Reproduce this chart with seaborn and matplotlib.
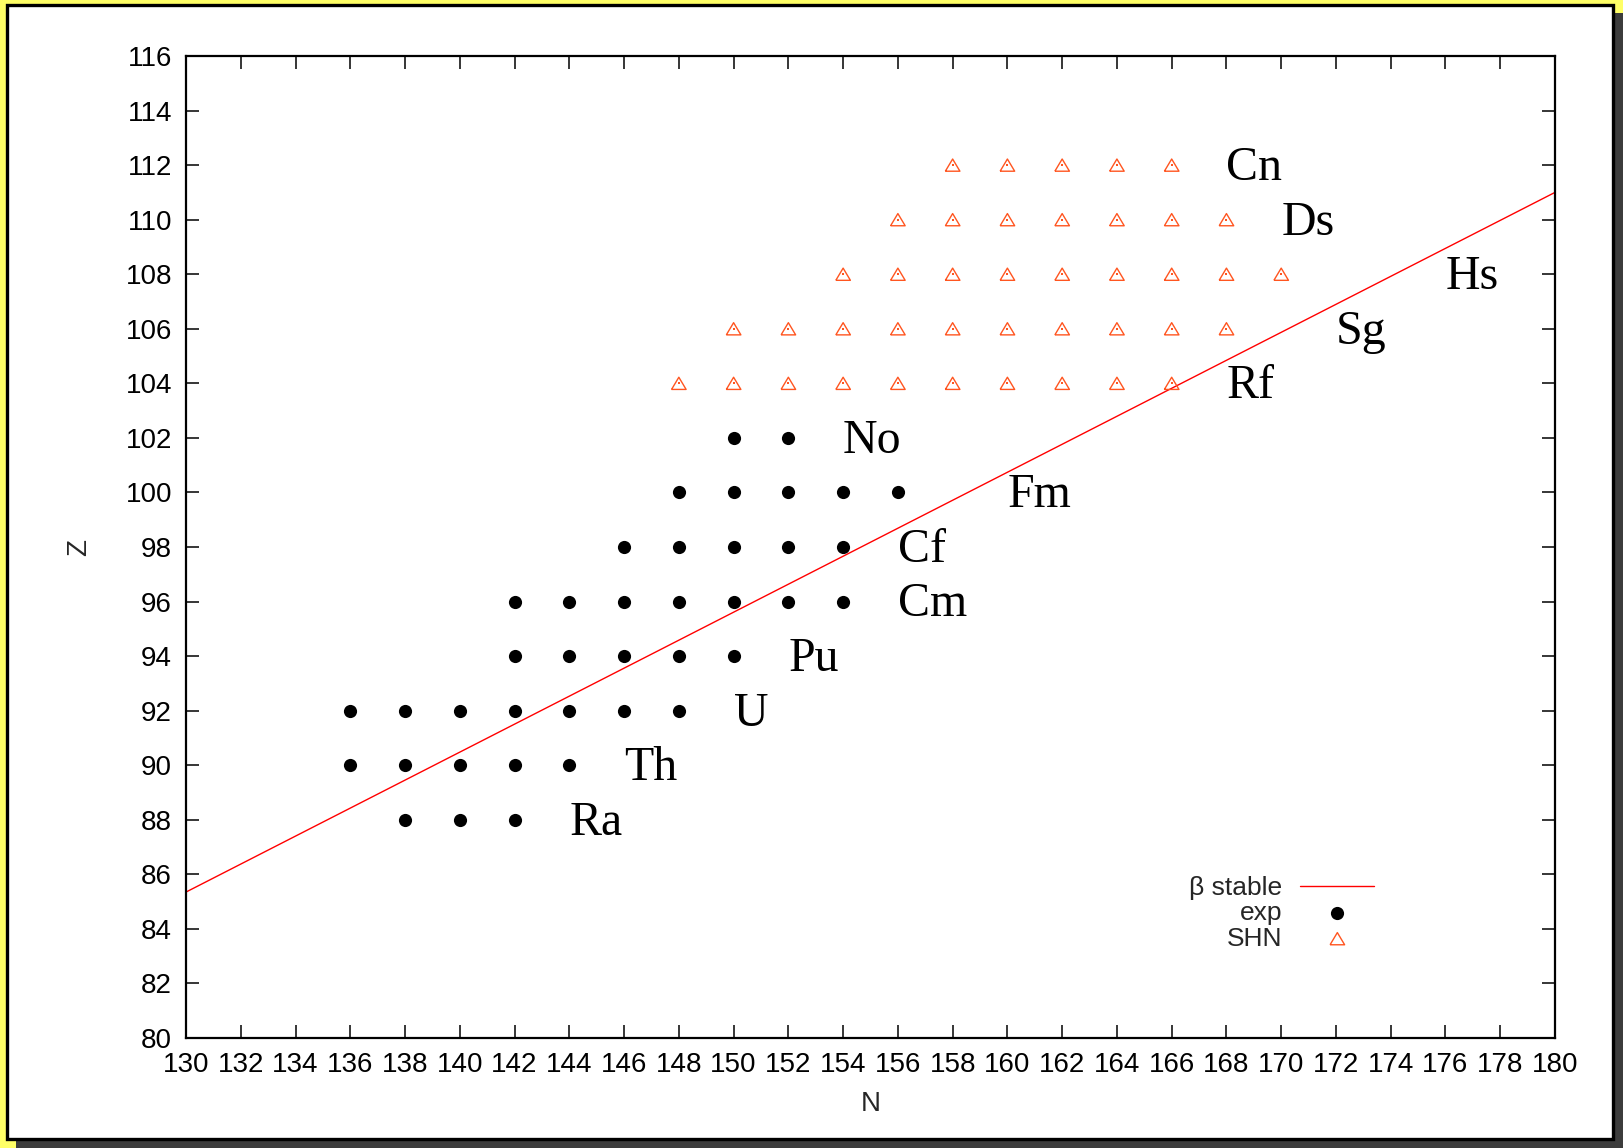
import matplotlib
matplotlib.use("Agg")
import matplotlib.pyplot as plt
import seaborn as sns
from matplotlib.patches import Rectangle

# ---------------- data ----------------
exp_N = [138, 140, 142,
         136, 138, 140, 142, 144,
         136, 138, 140, 142, 144, 146, 148,
         142, 144, 146, 148, 150,
         142, 144, 146, 148, 150, 152, 154,
         146, 148, 150, 152, 154,
         148, 150, 152, 154, 156,
         150, 152]
exp_Z = [88] * 3 + [90] * 5 + [92] * 7 + [94] * 5 + [96] * 7 + [98] * 5 + [100] * 5 + [102] * 2

shn_N = [148, 150, 152, 154, 156, 158, 160, 162, 164, 166,
         150, 152, 154, 156, 158, 160, 162, 164, 166, 168,
         154, 156, 158, 160, 162, 164, 166, 168, 170,
         156, 158, 160, 162, 164, 166, 168,
         158, 160, 162, 164, 166]
shn_Z = [104] * 10 + [106] * 10 + [108] * 9 + [110] * 7 + [112] * 5

beta_N = [130, 180]
beta_Z = [85.35, 111.0]

elem_names = ["Ra", "Th", "U", "Pu", "Cm", "Cf", "Fm", "No", "Rf", "Sg", "Hs", "Ds", "Cn"]
elem_N = [144, 146, 150, 152, 156, 156, 160, 154, 168, 172, 176, 170, 168]
elem_Z = [88, 90, 92, 94, 96, 98, 100, 102, 104, 106, 108, 110, 112]

x_ticks = list(range(130, 181, 2))
y_ticks = list(range(80, 117, 2))

# ---------------- style ----------------
sns.set_theme(style="ticks")
plt.rcParams["font.family"] = ["Liberation Sans", "DejaVu Sans"]

W, H = 1624, 1148
fig = plt.figure(figsize=(W / 100, H / 100), dpi=100, facecolor="#ffff66")

# frame: shadow + white panel with black edge
fig.patches.append(Rectangle((16 / W, 0), (W - 16) / W, (H - 13) / H,
                             transform=fig.transFigure, facecolor="#3c3c3c",
                             edgecolor="none", zorder=-3))
fig.patches.append(Rectangle((7 / W, 1 - 1139 / H), 1606 / W, 1134 / H,
                             transform=fig.transFigure, facecolor="white",
                             edgecolor="black", linewidth=2.4, zorder=-2))

ax = fig.add_axes([186 / W, 1 - 1038 / H, (1555 - 186) / W, (1038 - 56) / H])
ax.set_zorder(1)
ax.set_facecolor("white")

tri = [(-1, -0.837), (1, -0.837), (0, 0.837), (-1, -0.837)]
shn_color = "#ff5520"

sns.lineplot(x=beta_N, y=beta_Z, ax=ax, color="#ff0000", linewidth=1.0,
             label="β stable", zorder=2)
sns.scatterplot(x=exp_N, y=exp_Z, ax=ax, color="black", s=90, marker="o",
                linewidth=0, label="exp", zorder=3)
sns.scatterplot(x=shn_N, y=shn_Z, ax=ax, marker=tri, s=110,
                facecolor="none", edgecolor=shn_color, linewidth=1.0,
                label="SHN", zorder=3)
sns.scatterplot(x=shn_N, y=shn_Z, ax=ax, marker="s", s=1.5, color=shn_color,
                linewidth=0, legend=False, zorder=3)

for name, n, z in zip(elem_names, elem_N, elem_Z):
    ax.annotate(name, (n, z), xytext=(0, 1.5), textcoords="offset points",
                fontsize=34.5, family=["Liberation Serif", "DejaVu Serif"],
                ha="left", va="center_baseline", color="black", zorder=4)

ax.set_xlim(130, 180)
ax.set_ylim(80, 116)
ax.set_xticks(x_ticks)
ax.set_yticks(y_ticks)
ax.tick_params(direction="in", top=True, right=True, length=9.5, width=1.1,
               labelsize=20, pad=10, colors="black")
for sp in ax.spines.values():
    sp.set_visible(True)
    sp.set_linewidth(1.6)
    sp.set_color("black")

ax.set_xlabel("N", fontsize=20, labelpad=9.5)
ax.set_ylabel("Z", fontsize=20, labelpad=24)

leg = ax.legend(loc="upper right", bbox_to_anchor=(0.868, 0.165), frameon=False,
                markerfirst=False, fontsize=19, handlelength=2.8, handletextpad=0.68,
                labelspacing=0.05, borderpad=0, borderaxespad=0, scatterpoints=1)

fig.savefig("out.png", dpi=100, facecolor=fig.get_facecolor())
